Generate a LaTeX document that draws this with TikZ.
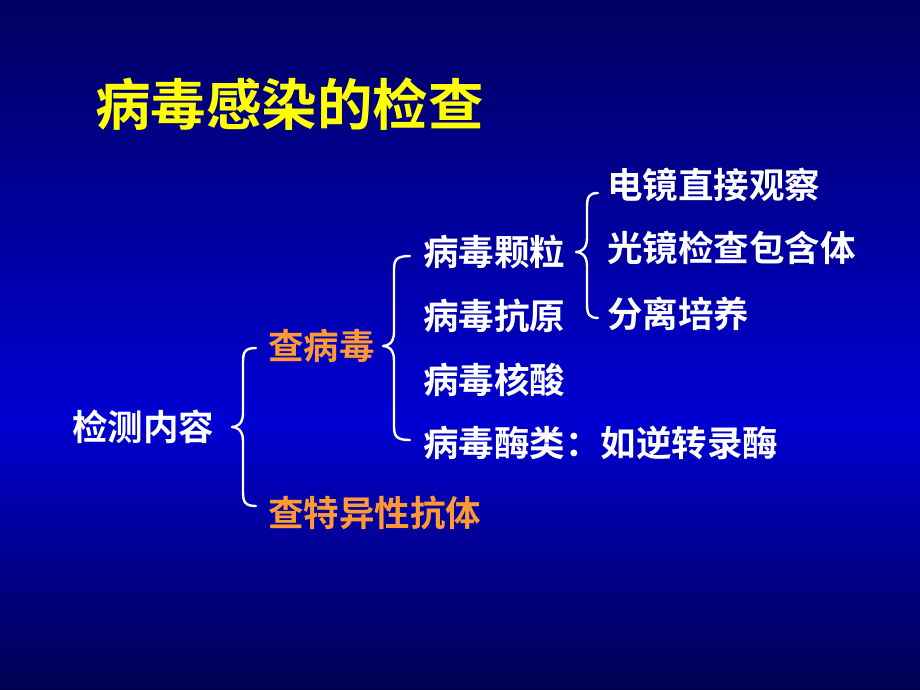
\documentclass[tikz,border=0pt]{standalone}
\usepackage{fontspec}
\newfontfamily\cjk{Noto Sans CJK SC}[BoldFont={Noto Sans CJK SC Bold}]
\usetikzlibrary{calc}
\definecolor{bgtop}{RGB}{0,0,96}
\definecolor{bgmid}{RGB}{0,0,210}
\definecolor{bgbot}{RGB}{0,0,80}
\definecolor{titleyellow}{RGB}{255,255,0}
\definecolor{checkorange}{RGB}{255,153,51}
\tikzset{
  item/.style={anchor=west,inner sep=0pt,text=white,font=\cjk\bfseries\fontsize{35.5}{36}\selectfont},
  head/.style={item,text=checkorange},
  bracestyle/.style={draw=white,line width=2.4pt,line cap=round,line join=round}
}
% brace: #1 tip, #2 upper end, #3 lower end
\newcommand{\openbrace}[3]{%
  \path[bracestyle] let \p1=(#1), \p2=(#2), \p3=(#3) in
    (\x2,\y2) .. controls (\x1+13pt,\y2) and (\x1+11pt,\y2-4pt) .. (\x1+11pt,\y2-14pt)
    -- (\x1+11pt,\y1+14pt) .. controls (\x1+11pt,\y1+3pt) and (\x1+5pt,\y1) .. (\x1,\y1)
    .. controls (\x1+5pt,\y1) and (\x1+11pt,\y1-3pt) .. (\x1+11pt,\y1-14pt)
    -- (\x1+11pt,\y3+14pt) .. controls (\x1+11pt,\y3+4pt) and (\x1+13pt,\y3) .. (\x3,\y3);}
\begin{document}
\begin{tikzpicture}[x=1pt,y=-1pt]
\shade[top color=bgtop,bottom color=bgmid] (0,0) rectangle (920,420);
\shade[top color=bgmid,bottom color=bgbot] (0,420) rectangle (920,690);
\useasboundingbox (0,0) rectangle (920,690);

\node[item,text=titleyellow,font=\cjk\bfseries\fontsize{55.5}{56}\selectfont] (title) at (95,104) {病毒感染的检查};

\node[item] (jcnr) at (72,427) {检测内容};
\node[head] (cbd) at (268,346) {查病毒};
\node[head] (ctkt) at (268,513) {查特异性抗体};

\node[item] (kl) at (423,252) {病毒颗粒};
\node[item] (ky) at (423,316) {病毒抗原};
\node[item] (hs) at (423,380) {病毒核酸};
\node[item] (ml) at (423,443) {病毒酶类：如逆转录酶};

\node[item] (dj) at (607,185) {电镜直接观察};
\node[item] (gj) at (607,248) {光镜检查包含体};
\node[item] (fl) at (607,314) {分离培养};

\coordinate (b1tip) at (232,427);
\coordinate (b1top) at (256,348);
\coordinate (b1bot) at (256,506);
\coordinate (b2tip) at (383,346);
\coordinate (b2top) at (410,256);
\coordinate (b2bot) at (410,440);
\coordinate (b3tip) at (576,252);
\coordinate (b3top) at (598,193);
\coordinate (b3bot) at (598,318);

\openbrace{b1tip}{b1top}{b1bot}
\openbrace{b2tip}{b2top}{b2bot}
\openbrace{b3tip}{b3top}{b3bot}
\end{tikzpicture}
\end{document}
